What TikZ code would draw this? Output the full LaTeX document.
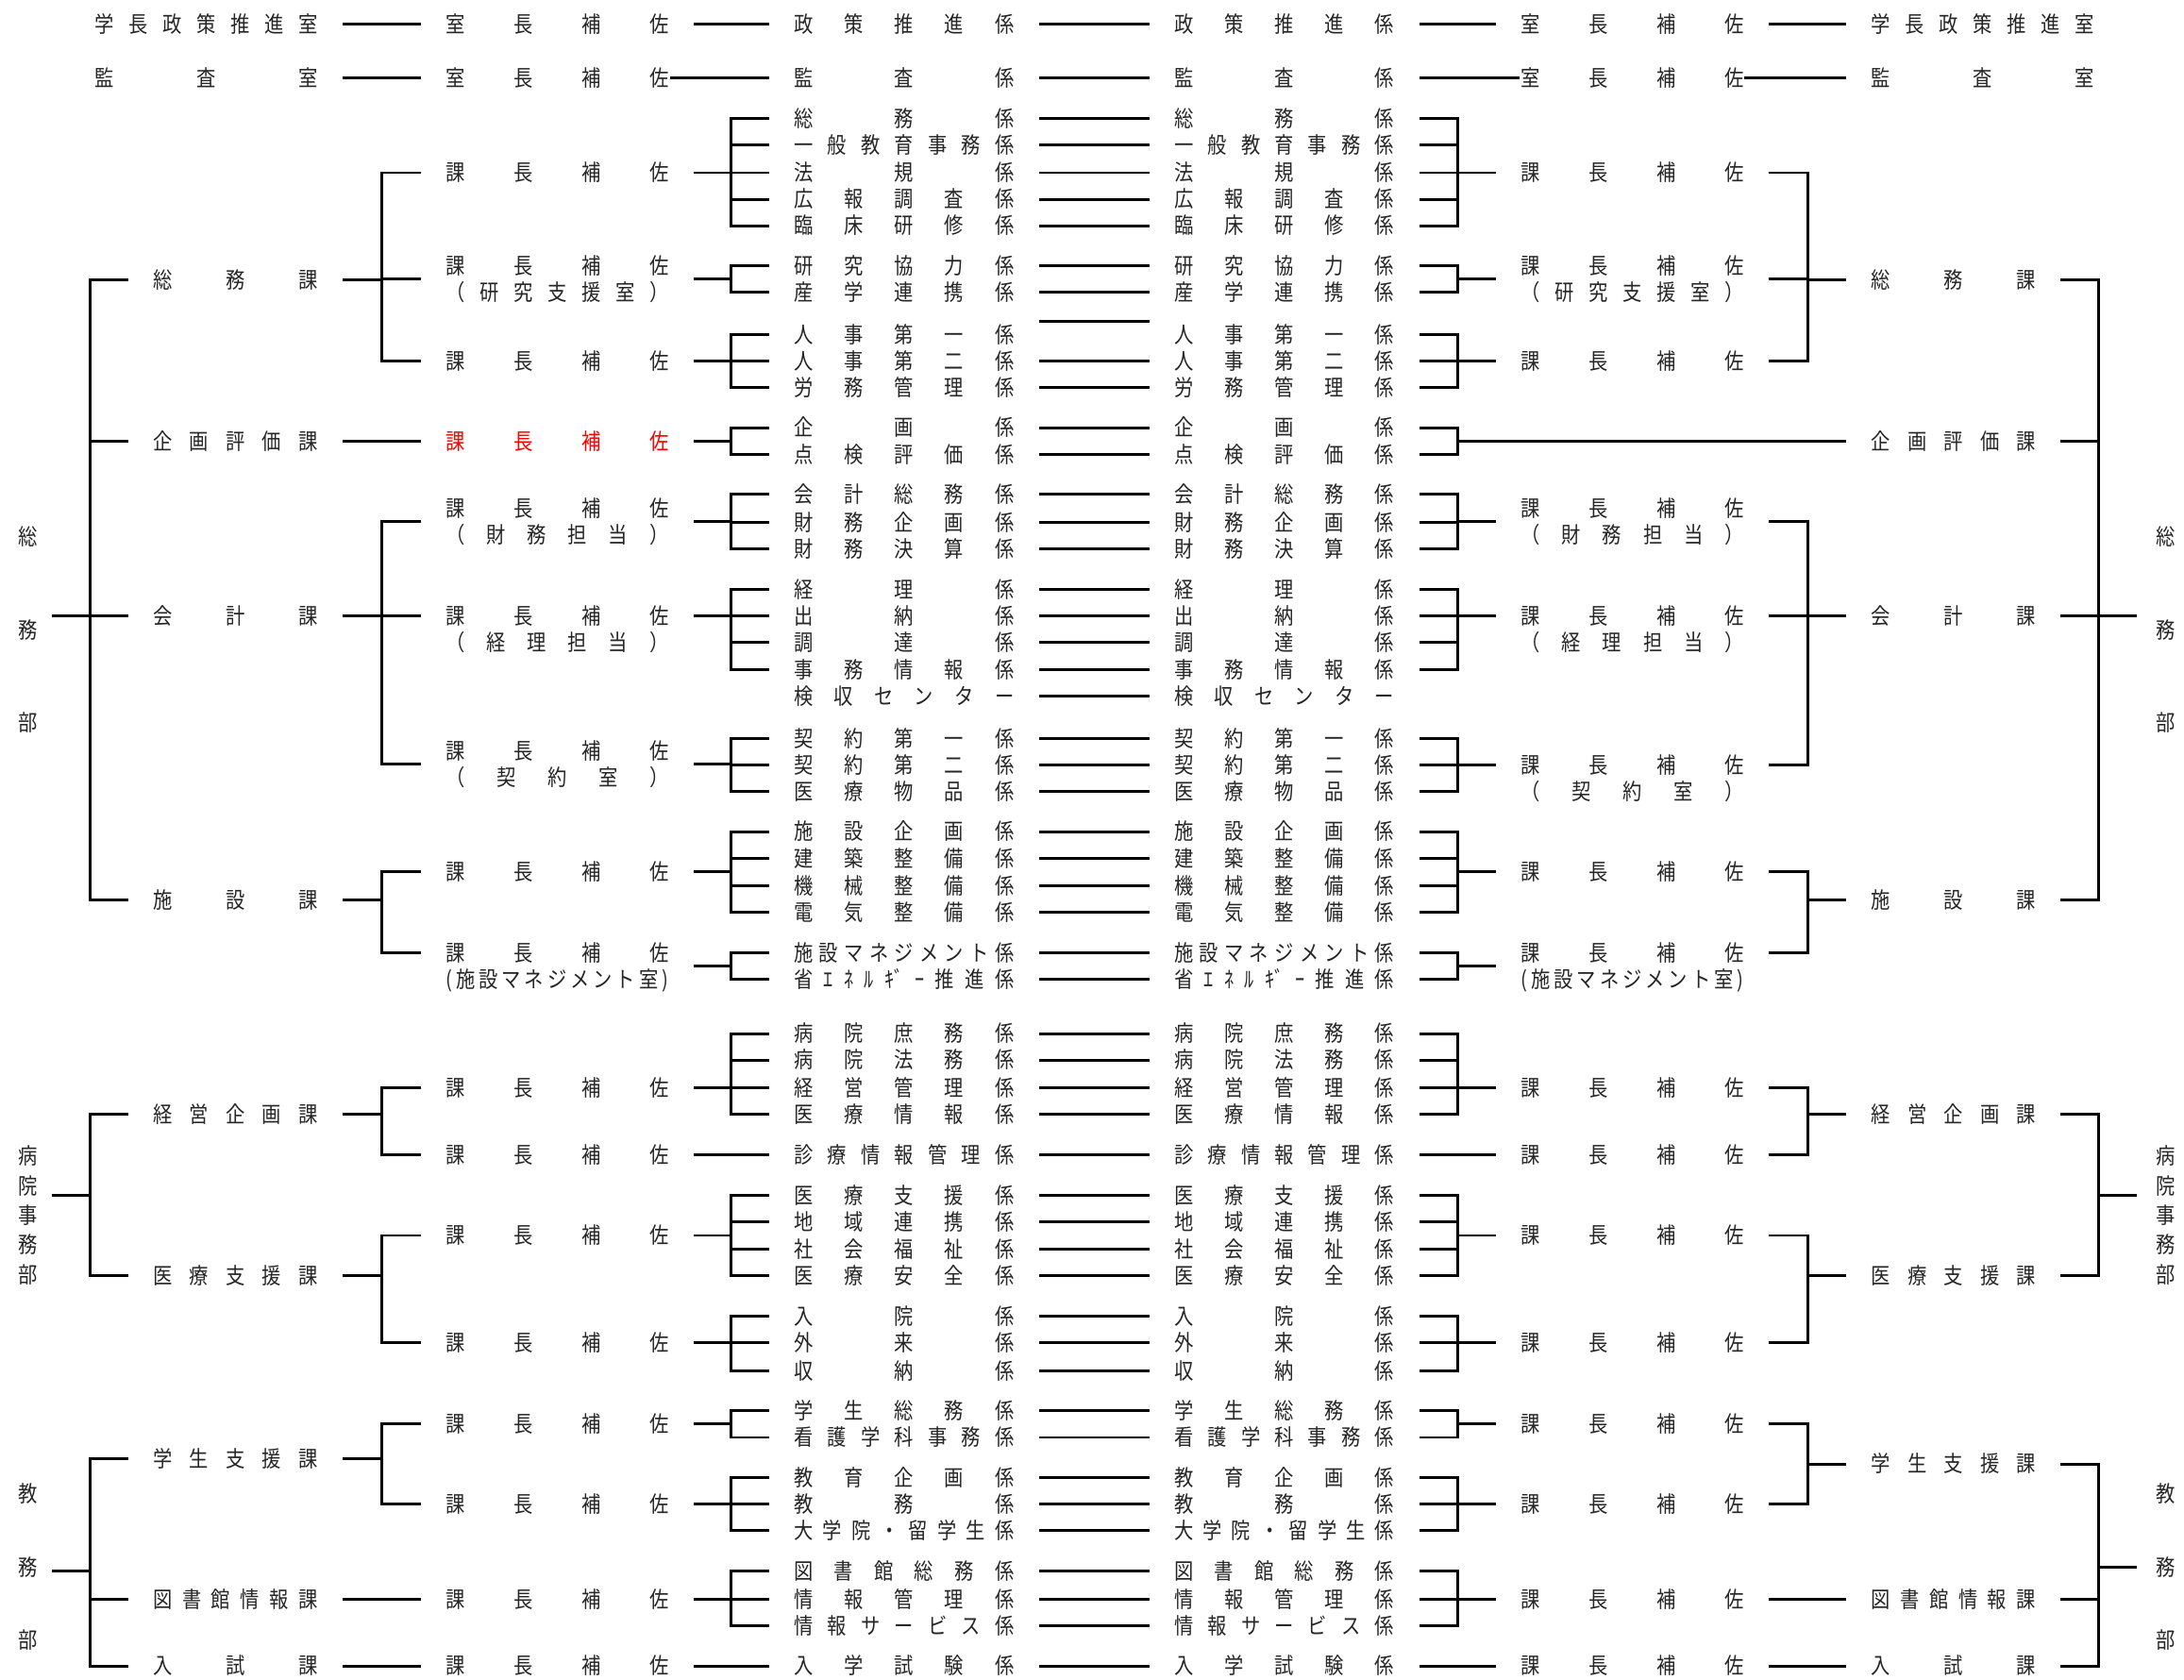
\documentclass[tikz,border=0pt]{standalone}
\usepackage{fontspec}
\setmainfont{Noto Sans CJK JP}[FakeStretch=0.86]
\usetikzlibrary{calc}
\definecolor{txt}{gray}{0.15}
\def\spstop{\spend}
\def\sploop#1{\def\sptmp{#1}\ifx\sptmp\spstop\else\hfill#1\expandafter\sploop\fi}
\def\spfirst#1{#1\sploop}
\newcommand\dst[2]{\makebox[#1][s]{\spfirst#2\spend}}
\tikzset{
 lb/.style={inner sep=0pt, outer xsep=19pt, outer ysep=0pt, text=txt, text height=14pt, text depth=1.9pt, font=\fontsize{16}{19}\selectfont},
 dep/.style={inner sep=0pt, align=center, text=txt},
 ln/.style={line width=2pt, line cap=rect, draw=black},
}
\newcommand\mkK[3]{%
 \node[lb] (#1L) at (649,#2) {\dst{158pt}{#3}};
 \node[lb] (#1R) at (922,#2) {\dst{158pt}{#3}};
 \draw[ln] (#1L.east) -- (#1R.west);}
\newcommand\mkHL[3]{\node[lb] (#1) at (400,#2) {\dst{160pt}{#3}};}
\newcommand\mkHR[3]{\node[lb] (#1) at (1172,#2) {\dst{160pt}{#3}};}
\newcommand\mkCL[3]{\node[lb] (#1) at (169,#2) {\dst{118pt}{#3}};}
\newcommand\mkCR[3]{\node[lb] (#1) at (1402.5,#2) {\dst{118pt}{#3}};}
\newcommand\brk[4]{%
 \coordinate (bm) at ($(#1)!0.5!(#1 -| #2)$);
 \draw[ln] (#1) -- (bm);
 \draw[ln] (bm |- #2) -- (bm |- #3);
 \foreach \c in {#4}{\draw[ln] (bm |- \c) -- (\c);}
}
\begin{document}
\begin{tikzpicture}[x=1pt,y=-1pt]
\fill[white] (0,0) rectangle (1568,1206);
\useasboundingbox (0,0) rectangle (1568,1206);

% ---------- row 1 and row 2
\node[lb] (g1L) at (148,17) {\dst{160pt}{学長政策推進室}};
\mkHL{r1L}{17}{室長補佐}
\mkK{s1}{17}{政策推進係}
\mkHR{r1R}{17}{室長補佐}
\node[lb] (g1R) at (1423.5,17) {\dst{160pt}{学長政策推進室}};
\draw[ln] (g1L.east) -- (r1L.west);
\draw[ln] (r1L.east) -- (s1L.west);
\draw[ln] (s1R.east) -- (r1R.west);
\draw[ln] (r1R.east) -- (g1R.west);

\node[lb] (g2L) at (148,56) {\dst{160pt}{監査室}};
\mkHL{r2L}{56}{室長補佐}
\mkK{s2}{56}{監査係}
\mkHR{r2R}{56}{室長補佐}
\node[lb] (g2R) at (1423.5,56) {\dst{160pt}{監査室}};
\draw[ln] (g2L.east) -- (r2L.west);
\draw[ln] ([xshift=-17pt]r2L.east) -- (s2L.west);
\draw[ln] (s2R.east) -- ([xshift=17pt]r2R.west);
\draw[ln] ([xshift=-18pt]r2R.east) -- (g2R.west);

% ---------- kakari (both sides)
\mkK{k01}{85}{総務係}
\mkK{k02}{104}{一般教育事務係}
\mkK{k03}{124}{法規係}
\mkK{k04}{143}{広報調査係}
\mkK{k05}{162}{臨床研修係}
\mkK{k06}{191}{研究協力係}
\mkK{k07}{210}{産学連携係}
\node[lb] (k08L) at (649,240) {\dst{158pt}{人事第一係}};
\node[lb] (k08R) at (922,240) {\dst{158pt}{人事第一係}};
\draw[ln] ([yshift=9pt]k08L.east) -- ([yshift=9pt]k08R.west);
\mkK{k09}{259}{人事第二係}
\mkK{k10}{278}{労務管理係}
\mkK{k11}{307}{企画係}
\mkK{k12}{326}{点検評価係}
\mkK{k13}{355}{会計総務係}
\mkK{k14}{375}{財務企画係}
\mkK{k15}{394}{財務決算係}
\mkK{k16}{423}{経理係}
\mkK{k17}{442}{出納係}
\mkK{k18}{461}{調達係}
\mkK{k19}{481}{事務情報係}
\mkK{k20}{500}{検収センター}
\mkK{k21}{530}{契約第一係}
\mkK{k22}{549}{契約第二係}
\mkK{k23}{568}{医療物品係}
\mkK{k24}{597}{施設企画係}
\mkK{k25}{616}{建築整備係}
\mkK{k26}{636}{機械整備係}
\mkK{k27}{655}{電気整備係}
\mkK{k28}{684}{施設マネジメント係}
\mkK{k29}{703}{省ｴﾈﾙ{ｷﾞ}ｰ推進係}
\mkK{k30}{742}{病院庶務係}
\mkK{k31}{761}{病院法務係}
\mkK{k32}{781}{経営管理係}
\mkK{k33}{800}{医療情報係}
\mkK{k34}{829}{診療情報管理係}
\mkK{k35}{858}{医療支援係}
\mkK{k36}{877}{地域連携係}
\mkK{k37}{897}{社会福祉係}
\mkK{k38}{916}{医療安全係}
\mkK{k39}{945}{入院係}
\mkK{k40}{964}{外来係}
\mkK{k41}{984}{収納係}
\mkK{k42}{1013}{学生総務係}
\mkK{k43}{1032}{看護学科事務係}
\mkK{k44}{1061}{教育企画係}
\mkK{k45}{1080}{教務係}
\mkK{k46}{1099}{大学院・留学生係}
\mkK{k47}{1128}{図書館総務係}
\mkK{k48}{1148}{情報管理係}
\mkK{k49}{1167}{情報サービス係}
\mkK{k50}{1196}{入学試験係}

% ---------- left kacho-hosa
\mkHL{h01L}{124}{課長補佐}
\mkHL{h02L}{191}{課長補佐}
\mkHL{h02sL}{210}{（研究支援室）}
\mkHL{h03L}{259}{課長補佐}
\node[lb, text=red] (h04L) at (400,317) {\dst{160pt}{課長補佐}};
\mkHL{h05L}{365}{課長補佐}
\mkHL{h05sL}{384}{（財務担当）}
\mkHL{h06L}{442}{課長補佐}
\mkHL{h06sL}{461}{（経理担当）}
\mkHL{h07L}{539}{課長補佐}
\mkHL{h07sL}{558}{（契約室）}
\mkHL{h08L}{626}{課長補佐}
\mkHL{h09L}{684}{課長補佐}
\mkHL{h09sL}{703}{(施設マネジメント室)}
\mkHL{h10L}{781}{課長補佐}
\mkHL{h11L}{829}{課長補佐}
\mkHL{h12L}{887}{課長補佐}
\mkHL{h13L}{964}{課長補佐}
\mkHL{h14L}{1022}{課長補佐}
\mkHL{h15L}{1080}{課長補佐}
\mkHL{h16L}{1148}{課長補佐}
\mkHL{h17L}{1196}{課長補佐}
\coordinate (m02L) at ($(h02L.east)!.5!(h02sL.east)$);
\coordinate (m02Lw) at ($(h02L.west)!.5!(h02sL.west)$);
\coordinate (m05L) at ($(h05L.east)!.5!(h05sL.east)$);
\coordinate (m05Lw) at ($(h05L.west)!.5!(h05sL.west)$);
\coordinate (m07L) at ($(h07L.east)!.5!(h07sL.east)$);
\coordinate (m07Lw) at ($(h07L.west)!.5!(h07sL.west)$);
\coordinate (m09L) at ($(h09L.east)!.5!(h09sL.east)$);

% ---------- right kacho-hosa
\mkHR{h01R}{124}{課長補佐}
\mkHR{h02R}{191}{課長補佐}
\mkHR{h02sR}{210}{（研究支援室）}
\mkHR{h03R}{259}{課長補佐}
\mkHR{h05R}{365}{課長補佐}
\mkHR{h05sR}{384}{（財務担当）}
\mkHR{h06R}{442}{課長補佐}
\mkHR{h06sR}{461}{（経理担当）}
\mkHR{h07R}{549}{課長補佐}
\mkHR{h07sR}{568}{（契約室）}
\mkHR{h08R}{626}{課長補佐}
\mkHR{h09R}{684}{課長補佐}
\mkHR{h09sR}{703}{(施設マネジメント室)}
\mkHR{h10R}{781}{課長補佐}
\mkHR{h11R}{829}{課長補佐}
\mkHR{h12R}{887}{課長補佐}
\mkHR{h13R}{964}{課長補佐}
\mkHR{h14R}{1022}{課長補佐}
\mkHR{h15R}{1080}{課長補佐}
\mkHR{h16R}{1148}{課長補佐}
\mkHR{h17R}{1196}{課長補佐}
\coordinate (m02R) at ($(h02R.west)!.5!(h02sR.west)$);
\coordinate (m02Re) at ($(h02R.east)!.5!(h02sR.east)$);
\coordinate (m05R) at ($(h05R.west)!.5!(h05sR.west)$);
\coordinate (m05Re) at ($(h05R.east)!.5!(h05sR.east)$);
\coordinate (m09R) at ($(h09R.west)!.5!(h09sR.west)$);

% ---------- ka (sections)
\mkCL{c01L}{201}{総務課}
\mkCL{c02L}{317}{企画評価課}
\mkCL{c03L}{442}{会計課}
\mkCL{c04L}{646}{施設課}
\mkCL{c05L}{800}{経営企画課}
\mkCL{c06L}{916}{医療支援課}
\mkCL{c07L}{1047}{学生支援課}
\mkCL{c08L}{1148}{図書館情報課}
\mkCL{c09L}{1196}{入試課}
\mkCR{c01R}{201}{総務課}
\mkCR{c02R}{317}{企画評価課}
\mkCR{c03R}{442}{会計課}
\mkCR{c04R}{646}{施設課}
\mkCR{c05R}{800}{経営企画課}
\mkCR{c06R}{916}{医療支援課}
\mkCR{c07R}{1051}{学生支援課}
\mkCR{c08R}{1148}{図書館情報課}
\mkCR{c09R}{1196}{入試課}

% ---------- departments (vertical labels)
\node[dep, font=\fontsize{16}{67}\selectfont] (d1L) at (20,452) {総\\務\\部};
\node[dep, font=\fontsize{16}{21.25}\selectfont] (d2L) at (20,872.5) {病\\院\\事\\務\\部};
\node[dep, font=\fontsize{16}{52.5}\selectfont] (d3L) at (20,1125) {教\\務\\部};
\node[dep, font=\fontsize{16}{67}\selectfont] (d1R) at (1555,452) {総\\務\\部};
\node[dep, font=\fontsize{16}{21.25}\selectfont] (d2R) at (1555,872.5) {病\\院\\事\\務\\部};
\node[dep, font=\fontsize{16}{52.5}\selectfont] (d3R) at (1555,1125) {教\\務\\部};
\coordinate (dL1) at (38,442);
\coordinate (dL2) at (38,858);
\coordinate (dL3) at (38,1128);
\coordinate (dR1) at (1533,442);
\coordinate (dR2) at (1533,858);
\coordinate (dR3) at (1533,1125);

% ---------- left brackets: hosa -> kakari
\brk{h01L.east}{k01L.west}{k05L.west}{k01L.west,k02L.west,k03L.west,k04L.west,k05L.west}
\brk{m02L}{k06L.west}{k07L.west}{k06L.west,k07L.west}
\brk{h03L.east}{k08L.west}{k10L.west}{k08L.west,k09L.west,k10L.west}
\brk{h04L.east}{k11L.west}{k12L.west}{k11L.west,k12L.west}
\brk{m05L}{k13L.west}{k15L.west}{k13L.west,k14L.west,k15L.west}
\brk{h06L.east}{k16L.west}{k19L.west}{k16L.west,k17L.west,k18L.west,k19L.west}
\brk{m07L}{k21L.west}{k23L.west}{k21L.west,k22L.west,k23L.west}
\brk{h08L.east}{k24L.west}{k27L.west}{k24L.west,k25L.west,k26L.west,k27L.west}
\brk{m09L}{k28L.west}{k29L.west}{k28L.west,k29L.west}
\brk{h10L.east}{k30L.west}{k33L.west}{k30L.west,k31L.west,k32L.west,k33L.west}
\draw[ln] (h11L.east) -- (k34L.west);
\brk{h12L.east}{k35L.west}{k38L.west}{k35L.west,k36L.west,k37L.west,k38L.west}
\brk{h13L.east}{k39L.west}{k41L.west}{k39L.west,k40L.west,k41L.west}
\brk{h14L.east}{k42L.west}{k43L.west}{k42L.west,k43L.west}
\brk{h15L.east}{k44L.west}{k46L.west}{k44L.west,k45L.west,k46L.west}
\brk{h16L.east}{k47L.west}{k49L.west}{k47L.west,k48L.west,k49L.west}
\draw[ln] (h17L.east) -- (k50L.west);

% ---------- left brackets: ka -> hosa
\brk{c01L.east}{h01L.west}{h03L.west}{h01L.west,m02Lw,h03L.west}
\draw[ln] (c02L.east) -- (h04L.west);
\brk{c03L.east}{m05Lw}{m07Lw}{m05Lw,h06L.west,m07Lw}
\brk{c04L.east}{h08L.west}{h09L.west}{h08L.west,h09L.west}
\brk{c05L.east}{h10L.west}{h11L.west}{h10L.west,h11L.west}
\brk{c06L.east}{h12L.west}{h13L.west}{h12L.west,h13L.west}
\brk{c07L.east}{h14L.west}{h15L.west}{h14L.west,h15L.west}
\draw[ln] (c08L.east) -- (h16L.west);
\draw[ln] (c09L.east) -- (h17L.west);

% ---------- left brackets: department -> ka
\brk{dL1}{c01L.west}{c04L.west}{c01L.west,c02L.west,c03L.west,c04L.west}
\brk{dL2}{c05L.west}{c06L.west}{c05L.west,c06L.west}
\brk{dL3}{c07L.west}{c09L.west}{c07L.west,c08L.west,c09L.west}

% ---------- right brackets: kakari -> hosa
\brk{h01R.west}{k01R.east}{k05R.east}{k01R.east,k02R.east,k03R.east,k04R.east,k05R.east}
\brk{m02R}{k06R.east}{k07R.east}{k06R.east,k07R.east}
\brk{h03R.west}{k08R.east}{k10R.east}{k08R.east,k09R.east,k10R.east}
\coordinate (bkR) at ($(k11R.east)!0.5!(k11R.east -| h01R.west)$);
\draw[ln] (k11R.east) -- (bkR |- k11R.east);
\draw[ln] (k12R.east) -- (bkR |- k12R.east);
\draw[ln] (bkR |- k11R.east) -- (bkR |- k12R.east);
\draw[ln] (bkR |- c02R.west) -- (c02R.west);
\brk{m05R}{k13R.east}{k15R.east}{k13R.east,k14R.east,k15R.east}
\brk{h06R.west}{k16R.east}{k19R.east}{k16R.east,k17R.east,k18R.east,k19R.east}
\brk{h07R.west}{k21R.east}{k23R.east}{k21R.east,k22R.east,k23R.east}
\brk{h08R.west}{k24R.east}{k27R.east}{k24R.east,k25R.east,k26R.east,k27R.east}
\brk{m09R}{k28R.east}{k29R.east}{k28R.east,k29R.east}
\brk{h10R.west}{k30R.east}{k33R.east}{k30R.east,k31R.east,k32R.east,k33R.east}
\draw[ln] (k34R.east) -- (h11R.west);
\brk{h12R.west}{k35R.east}{k38R.east}{k35R.east,k36R.east,k37R.east,k38R.east}
\brk{h13R.west}{k39R.east}{k41R.east}{k39R.east,k40R.east,k41R.east}
\brk{h14R.west}{k42R.east}{k43R.east}{k42R.east,k43R.east}
\brk{h15R.west}{k44R.east}{k46R.east}{k44R.east,k45R.east,k46R.east}
\brk{h16R.west}{k47R.east}{k49R.east}{k47R.east,k48R.east,k49R.east}
\draw[ln] (k50R.east) -- (h17R.west);

% ---------- right brackets: hosa -> ka
\brk{c01R.west}{h01R.east}{h03R.east}{h01R.east,m02Re,h03R.east}
\brk{c03R.west}{m05Re}{h07R.east}{m05Re,h06R.east,h07R.east}
\brk{c04R.west}{h08R.east}{h09R.east}{h08R.east,h09R.east}
\brk{c05R.west}{h10R.east}{h11R.east}{h10R.east,h11R.east}
\brk{c06R.west}{h12R.east}{h13R.east}{h12R.east,h13R.east}
\brk{c07R.west}{h14R.east}{h15R.east}{h14R.east,h15R.east}
\draw[ln] (h16R.east) -- (c08R.west);
\draw[ln] (h17R.east) -- (c09R.west);

% ---------- right brackets: ka -> department
\brk{dR1}{c01R.east}{c04R.east}{c01R.east,c02R.east,c03R.east,c04R.east}
\brk{dR2}{c05R.east}{c06R.east}{c05R.east,c06R.east}
\brk{dR3}{c07R.east}{c09R.east}{c07R.east,c08R.east,c09R.east}
\end{tikzpicture}
\end{document}
